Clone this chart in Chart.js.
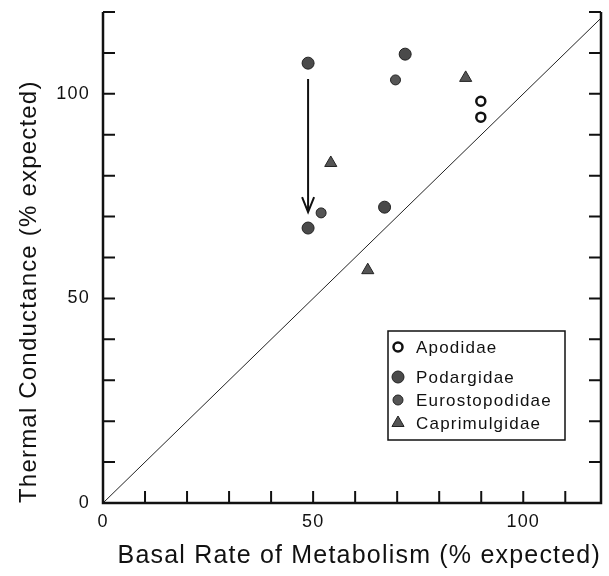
<!DOCTYPE html>
<html>
<head>
<meta charset="utf-8">
<script src="https://cdn.jsdelivr.net/npm/chart.js@4/dist/chart.umd.min.js"></script>
<style>
  html, body { margin: 0; padding: 0; background: #fff; }
  #wrap { width: 609px; height: 576px; }
</style>
</head>
<body>
<div id="wrap"><canvas id="chart" width="609" height="576"></canvas></div>
<script>
// values (% expected)
const families = ["Apodidae", "Podargidae", "Eurostopodidae", "Caprimulgidae"];
const apodidaeBmr = [89.9, 89.9];
const apodidaeCond = [98.2, 94.3];
const podargidaeBmr = [48.8, 48.8, 67.0, 71.9];
const podargidaeCond = [107.5, 67.2, 72.3, 109.7];
const eurostopodidaeBmr = [51.9, 69.6];
const eurostopodidaeCond = [70.9, 103.4];
const caprimulgidaeBmr = [54.2, 63.0, 86.3];
const caprimulgidaeCond = [83.1, 56.9, 103.9];
// line of equality and the arrow
const equalityBmr = [0, 120];
const equalityCond = [0, 120];
const arrowBmr = [48.8, 48.8];
const arrowCond = [103.6, 71.1];
const xTickLabels = [0, 50, 100];
const yTickLabels = [0, 50, 100];

const FONT = "'Liberation Sans', Arial, Helvetica, sans-serif";

function pairs(xs, ys) {
    return xs.map(function (x, i) {
        return { x: x, y: ys[i] };
    });
}

// inward ticks, spines, arrow and legend box
const framePlugin = {
    id: "frame",
    beforeDraw: function (chart) {
        chart.ctx.letterSpacing = "1.2px";
    },
    afterDraw: function (chart) {
        const ctx = chart.ctx;
        const xs = chart.scales.x;
        const ys = chart.scales.y;
        const a = chart.chartArea;
        ctx.save();
        ctx.strokeStyle = "#111";

        // spines: left, bottom, right
        ctx.lineWidth = 2.5;
        ctx.beginPath();
        ctx.moveTo(a.left, a.top);
        ctx.lineTo(a.left, a.bottom);
        ctx.lineTo(a.right, a.bottom);
        ctx.lineTo(a.right, a.top);
        ctx.stroke();

        // tick marks every 10, pointing in
        ctx.lineWidth = 2;
        ctx.beginPath();
        for (let v = 10; v <= 120; v += 10) {
            const py = ys.getPixelForValue(v);
            ctx.moveTo(a.left, py);
            ctx.lineTo(a.left + 12, py);
            ctx.moveTo(a.right, py);
            ctx.lineTo(a.right - 12, py);
        }
        for (let v = 10; v < xs.max; v += 10) {
            const px = xs.getPixelForValue(v);
            ctx.moveTo(px, a.bottom);
            ctx.lineTo(px, a.bottom - 12);
        }
        ctx.stroke();

        // arrow
        const ax = xs.getPixelForValue(arrowBmr[0]);
        const ay0 = ys.getPixelForValue(arrowCond[0]);
        const ax1 = xs.getPixelForValue(arrowBmr[1]);
        const ay1 = ys.getPixelForValue(arrowCond[1]);
        ctx.lineWidth = 2;
        ctx.beginPath();
        ctx.moveTo(ax, ay0);
        ctx.lineTo(ax1, ay1);
        ctx.moveTo(ax1 - 6, ay1 - 15);
        ctx.lineTo(ax1, ay1);
        ctx.lineTo(ax1 + 6, ay1 - 15);
        ctx.stroke();

        // legend
        const box = { left: 388, top: 331, right: 565, bottom: 440 };
        const rows = [347, 377, 400, 423];
        ctx.lineWidth = 1.5;
        ctx.strokeRect(box.left, box.top, box.right - box.left, box.bottom - box.top);
        ctx.font = "17px " + FONT;
        ctx.fillStyle = "#111";
        ctx.textBaseline = "middle";
        ctx.textAlign = "left";
        chart.data.datasets.slice(0, 4).forEach(function (ds, i) {
            const mx = 398;
            const my = rows[i];
            ctx.fillStyle = ds.backgroundColor;
            ctx.strokeStyle = ds.borderColor;
            ctx.lineWidth = ds.borderWidth;
            ctx.beginPath();
            if (ds.pointStyle === "triangle") {
                const r = ds.pointRadius;
                ctx.moveTo(mx, my - r);
                ctx.lineTo(mx + r * 0.866, my + r * 0.5);
                ctx.lineTo(mx - r * 0.866, my + r * 0.5);
                ctx.closePath();
            } else {
                ctx.arc(mx, my, ds.pointRadius, 0, Math.PI * 2);
            }
            ctx.fill();
            ctx.stroke();
            ctx.fillStyle = "#111";
            ctx.fillText(ds.label, 416, my + 1);
        });
        ctx.restore();
    }
};

const ctx = document.getElementById("chart").getContext("2d");
const chart = new Chart(ctx, {
    type: "scatter",
    data: {
        datasets: [
            {
                label: families[0],
                data: pairs(apodidaeBmr, apodidaeCond),
                pointStyle: "circle",
                pointRadius: 4.5,
                backgroundColor: "#fff",
                borderColor: "#111",
                borderWidth: 2.5,
            },
            {
                label: families[1],
                data: pairs(podargidaeBmr, podargidaeCond),
                pointStyle: "circle",
                pointRadius: 6,
                backgroundColor: "#4a4a4a",
                borderColor: "#222",
                borderWidth: 1,
            },
            {
                label: families[2],
                data: pairs(eurostopodidaeBmr, eurostopodidaeCond),
                pointStyle: "circle",
                pointRadius: 5,
                backgroundColor: "#555",
                borderColor: "#222",
                borderWidth: 1,
            },
            {
                label: families[3],
                data: pairs(caprimulgidaeBmr, caprimulgidaeCond),
                pointStyle: "triangle",
                pointRadius: 7,
                backgroundColor: "#555",
                borderColor: "#222",
                borderWidth: 1,
            },
            {
                label: "equality",
                type: "line",
                data: pairs(equalityBmr, equalityCond),
                showLine: true,
                pointRadius: 0,
                borderColor: "#222",
                borderWidth: 1,
                fill: false,
            },
        ],
    },
    options: {
        responsive: false,
        animation: false,
        events: [],
        layout: {
            padding: { top: 12, right: 4, left: 0, bottom: 0 },
        },
        plugins: {
            legend: { display: false },
            tooltip: { enabled: false },
        },
        scales: {
            x: {
                type: "linear",
                min: 0,
                max: 118.5,
                border: { display: false },
                grid: { display: false, drawTicks: false },
                ticks: {
                    stepSize: 10,
                    padding: 8,
                    color: "#111",
                    font: { family: FONT, size: 18 },
                    maxRotation: 0,
                    callback: function (v) {
                        return xTickLabels.indexOf(v) >= 0 ? String(v) : "";
                    },
                },
                title: {
                    display: true,
                    text: "Basal Rate of Metabolism (% expected)",
                    align: "end",
                    color: "#111",
                    font: { family: FONT, size: 25 },
                    padding: { top: 0, bottom: 5 },
                },
                afterFit: function (scale) {
                    scale.height = 73;
                    scale.paddingLeft = 0;
                    scale.paddingRight = 0;
                },
            },
            y: {
                type: "linear",
                min: 0,
                max: 120,
                border: { display: false },
                grid: { display: false, drawTicks: false },
                ticks: {
                    stepSize: 10,
                    padding: 13,
                    color: "#111",
                    font: { family: FONT, size: 18 },
                    callback: function (v) {
                        return yTickLabels.indexOf(v) >= 0 ? String(v) : "";
                    },
                },
                title: {
                    display: true,
                    text: "Thermal Conductance (% expected)",
                    align: "start",
                    color: "#111",
                    font: { family: FONT, size: 24 },
                    padding: { top: 15, bottom: 0 },
                },
                afterFit: function (scale) {
                    scale.width = 103;
                    scale.paddingTop = 0;
                    scale.paddingBottom = 0;
                },
            },
        },
    },
    plugins: [framePlugin],
});
</script>
</body>
</html>
